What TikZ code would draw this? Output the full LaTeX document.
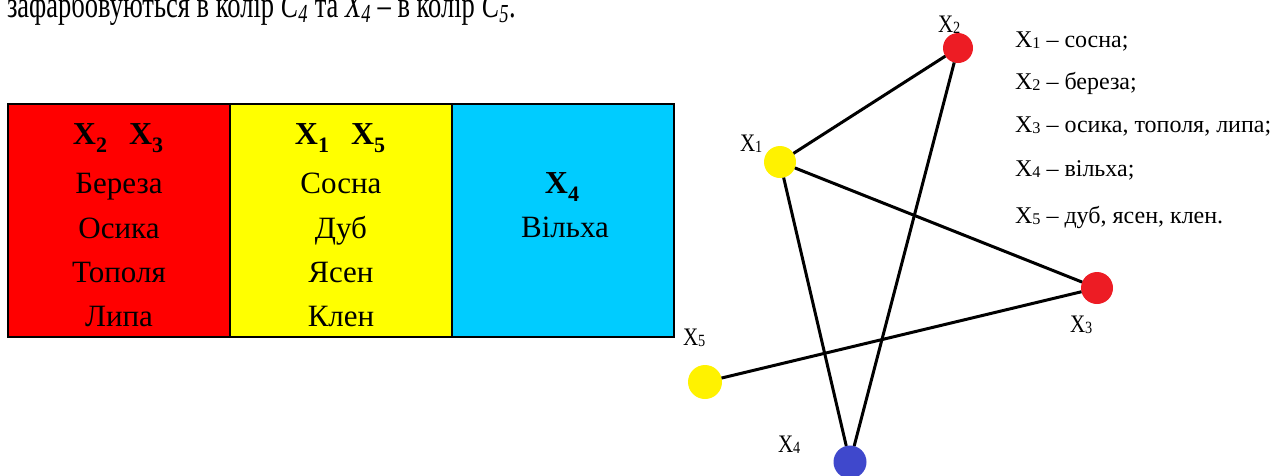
\documentclass[tikz,border=0pt]{standalone}
\usepackage{fontspec}
\setmainfont{Liberation Serif}
\definecolor{tred}{HTML}{FF0000}
\definecolor{tyel}{HTML}{FFFF00}
\definecolor{tcyan}{HTML}{00CCFF}
\definecolor{vred}{HTML}{ED1C24}
\definecolor{vyel}{HTML}{FFF200}
\definecolor{vblue}{HTML}{3F48CC}
\newcommand{\Xs}[1]{X\raisebox{-0.06em}{\scalebox{0.68}{#1}}}
\newcommand{\Xh}[1]{X\raisebox{-8pt}{\fontsize{22}{22}\selectfont #1}}
\begin{document}
\begin{tikzpicture}[x=1pt,y=-1pt,
  every node/.style={inner sep=0pt, outer sep=0pt},
  cell/.style={draw=black, line width=1.5pt, minimum width=222pt, minimum height=233pt, anchor=north west},
  ttxt/.style={font=\fontsize{31}{31}\selectfont, anchor=base},
  thead/.style={font=\bfseries\fontsize{32}{32}\selectfont, anchor=base},
  vert/.style={circle, draw=none},
  lbl/.style={font=\fontsize{21}{21}\selectfont, anchor=base west},
  leg/.style={font=\fontsize{24}{24}\selectfont, anchor=base west},
  edge/.style={line width=3pt, draw=black}]
\useasboundingbox (0,0) rectangle (1282,475);
\clip (0,0) rectangle (1282,475);
% top sentence (cut off at the top edge, as in the reference)
\node[font=\fontsize{26.5}{26.5}\selectfont, anchor=base west] (top) at (7,17)
  {\scalebox{1}[1.4]{зафарбовуються в колір \textit{C\textsubscript{4}} та \textit{X\textsubscript{4}} – в колір \textit{C\textsubscript{5}}.}};
% table
\node[cell, fill=tred] (c1) at (8,104) {};
\node[cell, fill=tyel] (c2) at (230,104) {};
\node[cell, fill=tcyan] (c3) at (452,104) {};
\node[thead] (h1) at (118,144) {\Xh{2}\hspace{22pt}\Xh{3}};
\node[ttxt] (r11) at (119,193) {Береза};
\node[ttxt] (r12) at (119,238) {Осика};
\node[ttxt] (r13) at (119,282) {Тополя};
\node[ttxt] (r14) at (119,326) {Липа};
\node[thead] (h2) at (340,144) {\Xh{1}\hspace{22pt}\Xh{5}};
\node[ttxt] (r21) at (341,193) {Сосна};
\node[ttxt] (r22) at (341,238) {Дуб};
\node[ttxt] (r23) at (341,282) {Ясен};
\node[ttxt] (r24) at (341,326) {Клен};
\node[thead] (h3) at (562,193) {\Xh{4}};
\node[ttxt] (r31) at (565,237) {Вільха};
% graph
\node[vert, fill=vyel, minimum size=32pt] (x1) at (780,162) {};
\node[vert, fill=vred, minimum size=30pt] (x2) at (958,48) {};
\node[vert, fill=vred, minimum size=32pt] (x3) at (1097,288) {};
\node[vert, fill=vblue, minimum size=33pt] (x4) at (850,462) {};
\node[vert, fill=vyel, minimum size=34pt] (x5) at (705,382) {};
\draw[edge] (x1) -- (x2);
\draw[edge] (x1) -- (x3);
\draw[edge] (x1) -- (x4);
\draw[edge] (x2) -- (x4);
\draw[edge] (x3) -- (x5);
\node[lbl] (l2) at (938,32) {\scalebox{1}[1.2]{\Xs{2}}};
\node[lbl] (l1) at (740,151) {\scalebox{1}[1.2]{\Xs{1}}};
\node[lbl] (l3) at (1070,332) {\scalebox{1}[1.2]{\Xs{3}}};
\node[lbl] (l5) at (683,345) {\scalebox{1}[1.2]{\Xs{5}}};
\node[lbl] (l4) at (778,452) {\scalebox{1}[1.2]{\Xs{4}}};
% legend
\node[leg] (g1) at (1015,47) {\Xs{1} – сосна;};
\node[leg] (g2) at (1015,89) {\Xs{2} – береза;};
\node[leg] (g3) at (1015,132) {\Xs{3} – осика, тополя, липа;};
\node[leg] (g4) at (1015,176) {\Xs{4} – вільха;};
\node[leg] (g5) at (1015,223) {\Xs{5} – дуб, ясен, клен.};
\end{tikzpicture}
\end{document}
